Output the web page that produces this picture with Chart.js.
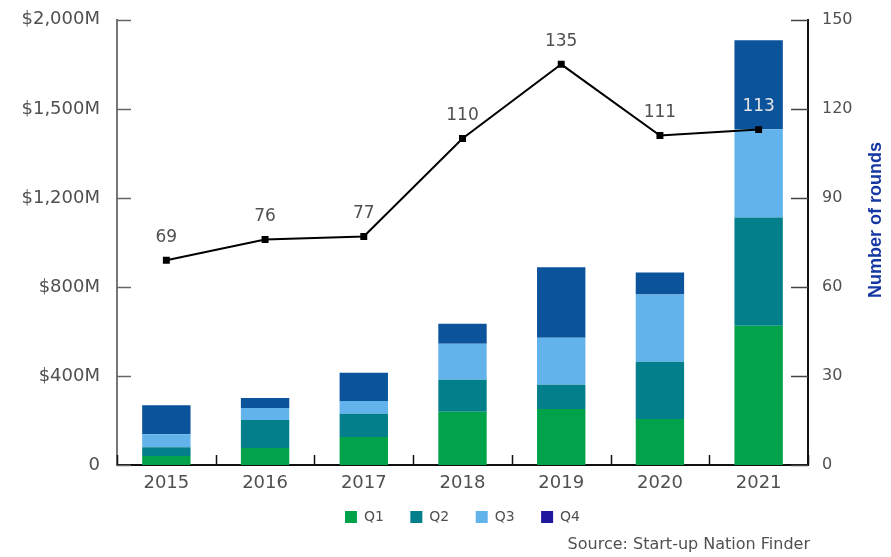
<!DOCTYPE html>
<html>
<head>
<meta charset="utf-8">
<script src="https://cdn.jsdelivr.net/npm/chart.js@4/dist/chart.umd.min.js"></script>
<style>
  html, body { margin: 0; padding: 0; background: #fff; }
  #wrap { width: 891px; height: 557px; }
</style>
</head>
<body>
<div id="wrap"><canvas id="roundsChart" width="891" height="557"></canvas></div>
<script>
// Data
const years = ['2015', '2016', '2017', '2018', '2019', '2020', '2021'];
const q1 = [40, 76, 126, 239, 252, 207, 626];
const q2 = [40, 126, 104, 144, 108, 257, 486];
const q3 = [58, 54, 58, 162, 212, 302, 396];
const q4 = [130, 45, 126, 90, 316, 99, 400];
const rounds = [69, 76, 77, 110, 135, 111, 113];
const leftTickValues = [0, 400, 800, 1200, 1600, 2000];
const leftTickLabels = ['0', '$400M', '$800M', '$1,200M', '$1,500M', '$2,000M'];

const colors = {
    q1: '#02a24a',
    q2: '#037f8c',
    q3: '#62b2ec',
    q4: '#0b539b',
    q4Legend: '#21179e',
    line: '#000000',
    text: '#505050',
    title: '#1638a3'
};
const FONT = '"DejaVu Sans", Verdana, sans-serif';
const TITLE_FONT = '"Liberation Sans", Arial, Helvetica, sans-serif';

// inward tick marks, line labels, rotated axis title and source note
const axisDecor = {
    id: 'axisDecor',
    afterDatasetsDraw(chart) {
        const ctx = chart.ctx;
        const area = chart.chartArea;
        const x = chart.scales.x, yl = chart.scales.y, yr = chart.scales.y1;
        ctx.save();
        ctx.lineWidth = 1.5;
        ctx.strokeStyle = '#666';
        yl.ticks.forEach(t => {
            const py = Math.round(yl.getPixelForValue(t.value)) + 0.5;
            ctx.beginPath(); ctx.moveTo(area.left, py); ctx.lineTo(area.left + 14, py); ctx.stroke();
        });
        ctx.strokeStyle = '#444';
        yr.ticks.forEach(t => {
            const py = Math.round(yr.getPixelForValue(t.value)) + 0.5;
            ctx.beginPath(); ctx.moveTo(area.right - 17, py); ctx.lineTo(area.right, py); ctx.stroke();
        });
        ctx.strokeStyle = '#111';
        const step = x.getPixelForValue(1) - x.getPixelForValue(0);
        for (let i = 0; i <= years.length; i++) {
            const px = Math.round(x.getPixelForValue(i) - step / 2) + 0.5;
            ctx.beginPath(); ctx.moveTo(px, area.bottom); ctx.lineTo(px, area.bottom - 10); ctx.stroke();
        }
        // value labels above line points
        const meta = chart.getDatasetMeta(4);
        ctx.font = '17px ' + FONT;
        ctx.textAlign = 'center';
        ctx.textBaseline = 'middle';
        meta.data.forEach((pt, i) => {
            ctx.fillStyle = i === years.length - 1 ? '#e6e6e6' : colors.text;
            ctx.fillText(String(rounds[i]), pt.x, pt.y - 23);
        });
        // right axis title, reading upward
        ctx.save();
        ctx.translate(876, 220);
        ctx.rotate(-Math.PI / 2);
        ctx.font = 'bold 18px ' + TITLE_FONT;
        ctx.fillStyle = colors.title;
        ctx.fillText('Number of rounds', 0, 0);
        ctx.restore();
        // source note
        ctx.font = '16px ' + FONT;
        ctx.fillStyle = colors.text;
        ctx.textAlign = 'right';
        ctx.fillText('Source: Start-up Nation Finder', 810, 545);
        ctx.restore();
    }
};

const ctx = document.getElementById('roundsChart').getContext('2d');
new Chart(ctx, {
    type: 'bar',
    data: {
        labels: years,
        datasets: [
            { label: 'Q1', data: q1, backgroundColor: colors.q1, yAxisID: 'y', stack: 'amt', order: 2 },
            { label: 'Q2', data: q2, backgroundColor: colors.q2, yAxisID: 'y', stack: 'amt', order: 2 },
            { label: 'Q3', data: q3, backgroundColor: colors.q3, yAxisID: 'y', stack: 'amt', order: 2 },
            { label: 'Q4', data: q4, backgroundColor: colors.q4, yAxisID: 'y', stack: 'amt', order: 2 },
            {
                type: 'line', label: 'Rounds', data: rounds, yAxisID: 'y1', order: 1,
                borderColor: colors.line, backgroundColor: colors.line, borderWidth: 2,
                pointStyle: 'rect', pointRadius: 3.5, tension: 0
            }
        ]
    },
    options: {
        responsive: false,
        animation: false,
        layout: { padding: { top: 9, left: 0, right: 0, bottom: 23 } },
        datasets: { bar: { barPercentage: 0.49, categoryPercentage: 1 } },
        plugins: {
            tooltip: { enabled: false },
            legend: {
                position: 'bottom',
                fullSize: false,
                labels: {
                    font: { family: FONT, size: 14 },
                    color: colors.text,
                    boxWidth: 12, boxHeight: 12, padding: 15,
                    filter: item => item.datasetIndex !== 4,
                    generateLabels(chart) {
                        const base = Chart.defaults.plugins.legend.labels.generateLabels(chart);
                        return base.map(it => {
                            if (it.text === 'Q4') {
                                it.fillStyle = colors.q4Legend;
                            } else {
                                it.text = it.text + '\u2002 ';
                            }
                            it.strokeStyle = 'transparent';
                            it.lineWidth = 0;
                            return it;
                        });
                    }
                }
            }
        },
        scales: {
            x: {
                stacked: true,
                grid: { display: false },
                border: { display: true, color: '#111', width: 2 },
                ticks: { color: colors.text, font: { family: FONT, size: 18 }, padding: 0 },
                afterFit(scale) { scale.height = 30; }
            },
            y: {
                stacked: true,
                position: 'left',
                min: 0, max: 2000,
                afterBuildTicks(scale) { scale.ticks = leftTickValues.map(v => ({ value: v })); },
                grid: { display: false },
                border: { display: true, color: '#777', width: 2 },
                ticks: {
                    color: colors.text,
                    font: { family: FONT, size: 18 },
                    padding: 9,
                    callback: (v, i) => leftTickLabels[i]
                },
                afterFit(scale) { scale.width = 117; }
            },
            y1: {
                position: 'right',
                min: 0, max: 150,
                grid: { display: false },
                border: { display: true, color: '#111', width: 2 },
                ticks: { stepSize: 30, color: colors.text, font: { family: FONT, size: 16 }, padding: 6 },
                afterFit(scale) { scale.width = 83; }
            }
        }
    },
    plugins: [axisDecor]
});
</script>
</body>
</html>
